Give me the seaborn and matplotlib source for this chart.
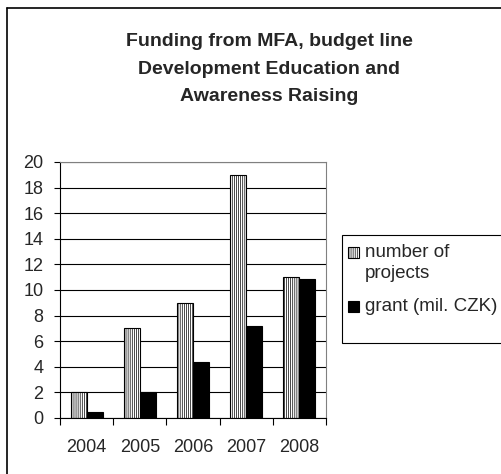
import numpy as np
import pandas as pd
import matplotlib
matplotlib.use("Agg")
import matplotlib.pyplot as plt
from matplotlib.lines import Line2D
from matplotlib.patches import Rectangle
import seaborn as sns

years = ["2004", "2005", "2006", "2007", "2008"]
projects = [2, 7, 9, 19, 11]
grant = [0.5, 2.0, 4.4, 7.2, 10.85]
series = ["number of\nprojects", "grant (mil. CZK)"]

sns.set_style("white")
plt.rcParams["font.family"] = ["Liberation Sans", "DejaVu Sans"]
plt.rcParams["hatch.linewidth"] = 0.5
plt.rcParams["hatch.color"] = "#8a8a8a"

df = pd.DataFrame({
    "year": years * 2,
    "value": projects + grant,
    "series": [series[0]] * len(years) + [series[1]] * len(years),
})

W, H = 502, 474
fig = plt.figure(figsize=(W / 100, H / 100), dpi=100)
fig.patch.set_facecolor("white")
ax = fig.add_axes([60 / W, 1 - 418 / H, (326 - 60) / W, (418 - 162) / H])

sns.barplot(data=df, x="year", y="value", hue="series", ax=ax, width=0.6,
            palette=["white", "black"], edgecolor="black", linewidth=0.8,
            gap=0, legend=False, saturation=1)

hatch = "||||||||"
for p in ax.containers[0]:
    p.set_hatch(hatch)
    if hasattr(p, "set_hatchcolor"):
        p.set_hatchcolor("#8a8a8a")

ax.set_ylim(0, 20)
ax.set_xlim(-0.5, len(years) - 0.5)
ax.set_yticks(np.arange(0, 21, 2))
ax.yaxis.grid(True, color="black", linewidth=0.8)
ax.set_axisbelow(True)
ax.set_xlabel("")
ax.set_ylabel("")

for side in ["top", "right"]:
    ax.spines[side].set_color("#808080")
    ax.spines[side].set_linewidth(0.8)
for side in ["left", "bottom"]:
    ax.spines[side].set_color("black")
    ax.spines[side].set_linewidth(0.8)

ax.set_xticks(np.arange(-0.5, len(years), 1), minor=True)
ax.tick_params(axis="x", which="major", length=0, pad=15, labelsize=13)
ax.tick_params(axis="x", which="minor", length=5, width=0.8, direction="out",
               color="black", bottom=True)
ax.tick_params(axis="y", length=4, width=0.8, direction="out", pad=8,
               labelsize=13, left=True, color="black")

# outer chart frame (only left and top visible)
fig.add_artist(Line2D([7 / W, 7 / W], [0, 1 - 8 / H], transform=fig.transFigure,
                      color="black", linewidth=1.2))
fig.add_artist(Line2D([7 / W, 1], [1 - 8 / H, 1 - 8 / H], transform=fig.transFigure,
                      color="black", linewidth=1.2))

fig.text(269 / W, 1 - 69 / H,
         "Funding from MFA, budget line\nDevelopment Education and\nAwareness Raising",
         ha="center", va="center", fontsize=14, fontweight="bold", linespacing=1.8)

# legend box, drawn by hand so the first swatch lines up with the first text line
fig.add_artist(Rectangle((342 / W, 1 - 343 / H), 200 / W, (343 - 235) / H,
                         transform=fig.transFigure, facecolor="white",
                         edgecolor="black", linewidth=0.8, zorder=1))
swatches = [("white", hatch, 247), ("black", None, 301)]
for (fc, h, top), label in zip(swatches, series):
    fig.add_artist(Rectangle((348 / W, 1 - (top + 11) / H), 11 / W, 11 / H,
                             transform=fig.transFigure, facecolor=fc, hatch=h,
                             edgecolor="black", linewidth=0.8, zorder=2))
    fig.text(365 / W, 1 - (top + 5.5) / H, label.split("\n")[0], fontsize=13.5,
             va="center", ha="left", zorder=3)
    if "\n" in label:
        fig.text(365 / W, 1 - (top + 26.5) / H, label.split("\n")[1], fontsize=13.5,
                 va="center", ha="left", zorder=3)

fig.savefig("out.png", dpi=100, facecolor="white")
